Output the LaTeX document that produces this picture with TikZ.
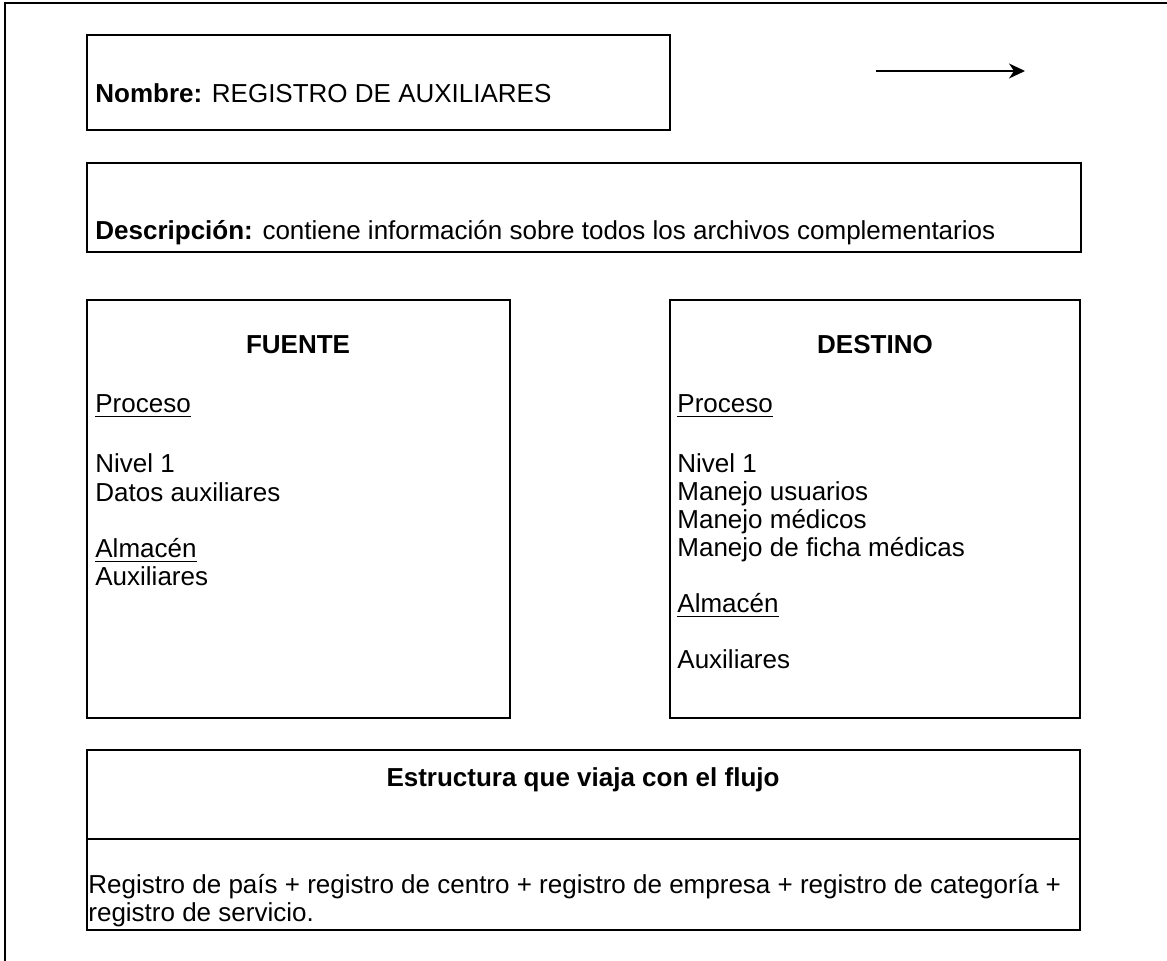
\documentclass[tikz,border=0pt]{standalone}
\usepackage{fontspec}
\setmainfont{Liberation Sans}
\usetikzlibrary{arrows.meta,fit}

\begin{document}
\begin{tikzpicture}[
  x=0.5pt, y=-0.5pt,
  box/.style={draw, line width=1.2pt, inner sep=0pt},
  txt/.style={anchor=base west, inner sep=0pt, font=\fontsize{13}{15}\selectfont},
  hdr/.style={anchor=base, inner sep=0pt, font=\fontsize{13}{15}\selectfont\bfseries},
  arr/.style={-{Stealth[length=8pt, width=7.5pt, inset=2.5pt]}, line width=0.9pt}
]
\useasboundingbox (0,0) rectangle (1167,961);

% outer frame
\draw[line width=1.2pt] (5,961) -- (5,3) -- (1167,3);

% boxes
\node[box, fit={(87,35) (670,130)}] (nombre) {};
\node[box, fit={(87,163) (1081,252)}] (descr) {};
\node[box, fit={(87,300) (510,718)}] (fuente) {};
\node[box, fit={(670,300) (1080,718)}] (destino) {};
\node[box, fit={(87,750) (1080,839)}] (estrhead) {};
\node[box, fit={(87,839) (1080,930)}] (estrbody) {};

% legend arrow
\coordinate (arrstart) at (876,71);
\coordinate (arrend) at (1025,71);
\draw[arr] (arrstart) -- (arrend);

\node[txt] (nombretxt) at (95,103) {\textbf{Nombre:} REGISTRO DE AUXILIARES};
\node[txt] (descrtxt) at (95,240) {\textbf{Descripción:} contiene información sobre todos los archivos complementarios};

% fuente
\node[hdr] (fuentehdr) at (298,354) {FUENTE};
\node[txt] (fproc) at (95,413) {\underline{Proceso}};
\node[txt] (fniv) at (95,473) {Nivel 1};
\node[txt] (fdatos) at (95,502) {Datos auxiliares};
\node[txt] (falm) at (95,558) {\underline{Almacén}};
\node[txt] (faux) at (95,586) {Auxiliares};

% destino
\node[hdr] (destinohdr) at (875,354) {DESTINO};
\node[txt] (dproc) at (677,413) {\underline{Proceso}};
\node[txt] (dniv) at (677,473) {Nivel 1};
\node[txt] (dusu) at (677,501) {Manejo usuarios};
\node[txt] (dmed) at (677,529) {Manejo médicos};
\node[txt] (dficha) at (677,557) {Manejo de ficha médicas};
\node[txt] (dalm) at (677,613) {\underline{Almacén}};
\node[txt] (daux) at (677,669) {Auxiliares};

% estructura
\node[hdr] (estrtxt) at (583,786) {Estructura que viaja con el flujo};
\node[txt] (linea1) at (88,893) {Registro de país + registro de centro + registro de empresa + registro de categoría +};
\node[txt] (linea2) at (88,921) {registro de servicio.};

\end{tikzpicture}
\end{document}
